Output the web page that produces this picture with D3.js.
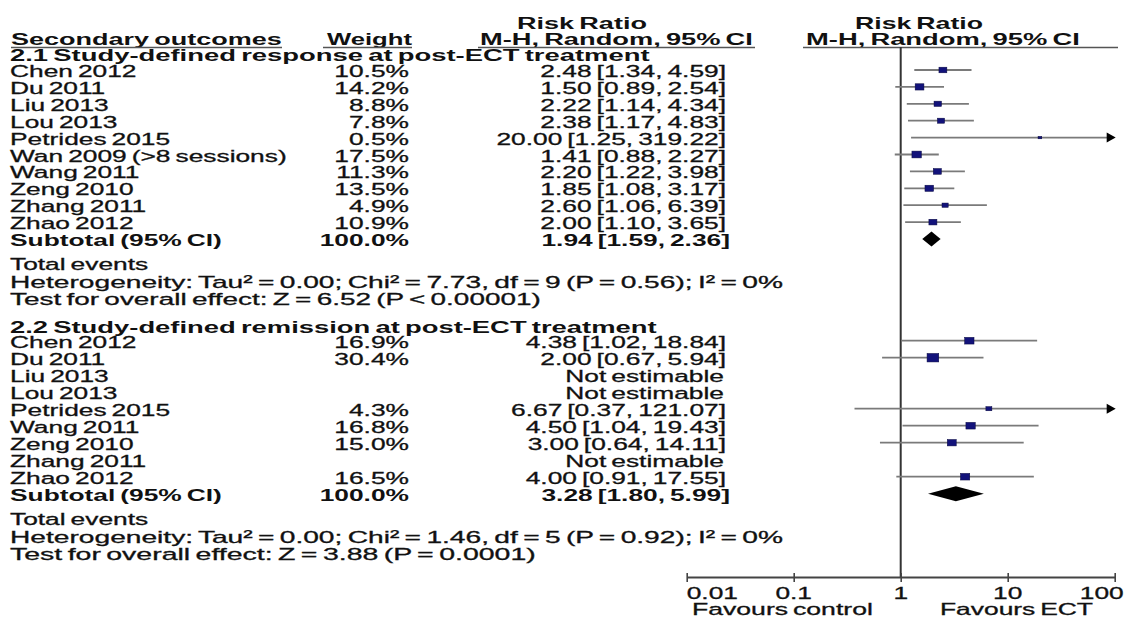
<!DOCTYPE html>
<html><head><meta charset="utf-8">
<script src="https://cdn.jsdelivr.net/npm/d3@7/dist/d3.min.js"></script>
<style>html,body{margin:0;padding:0;background:#fff;} svg{display:block;}</style>
</head><body>
<svg id="c" width="1126" height="618"></svg>
<script>
// ---------- data ----------
const group1Title = "2.1 Study-defined response at post-ECT treatment";
const studies1 = ["Chen 2012","Du 2011","Liu 2013","Lou 2013","Petrides 2015","Wan 2009 (>8 sessions)","Wang 2011","Zeng 2010","Zhang 2011","Zhao 2012"];
const weights1 = [10.5,14.2,8.8,7.8,0.5,17.5,11.3,13.5,4.9,10.9];
const rr1 = [2.48,1.50,2.22,2.38,20.00,1.41,2.20,1.85,2.60,2.00];
const lo1 = [1.34,0.89,1.14,1.17,1.25,0.88,1.22,1.08,1.06,1.10];
const hi1 = [4.59,2.54,4.34,4.83,319.22,2.27,3.98,3.17,6.39,3.65];
const subtotal1 = [1.94,1.59,2.36];
const hetero1 = "Heterogeneity: Tau\u00B2 = 0.00; Chi\u00B2 = 7.73, df = 9 (P = 0.56); I\u00B2 = 0%";
const overall1 = "Test for overall effect: Z = 6.52 (P < 0.00001)";

const group2Title = "2.2 Study-defined remission at post-ECT treatment";
const studies2 = ["Chen 2012","Du 2011","Liu 2013","Lou 2013","Petrides 2015","Wang 2011","Zeng 2010","Zhang 2011","Zhao 2012"];
const weights2 = [16.9,30.4,null,null,4.3,16.8,15.0,null,16.5];
const rr2 = [4.38,2.00,null,null,6.67,4.50,3.00,null,4.00];
const lo2 = [1.02,0.67,null,null,0.37,1.04,0.64,null,0.91];
const hi2 = [18.84,5.94,null,null,121.07,19.43,14.11,null,17.55];
const subtotal2 = [3.28,1.80,5.99];
const hetero2 = "Heterogeneity: Tau\u00B2 = 0.00; Chi\u00B2 = 1.46, df = 5 (P = 0.92); I\u00B2 = 0%";
const overall2 = "Test for overall effect: Z = 3.88 (P = 0.0001)";

const tickValues = [0.01,0.1,1,10,100];
const tickLabels = ["0.01","0.1","1","10","100"];
const favourLabels = ["Favours control","Favours ECT"];

// ---------- drawing ----------
const svg = d3.select("#c");
const FONT = "'Liberation Sans', Arial, sans-serif";
const FS = 17, SX = 1.55;
const INK = "#111";
const x = d3.scaleLog().domain([0.01,100]).range([686.7,1114.7]);
const wScale = d3.scaleSqrt().domain([0,30.4]).range([2.5,11.7]);
const hScale = d3.scaleSqrt().domain([0,30.4]).range([1.5,8.5]);

function txt(parent, str, px, py, opt={}) {
  const t = parent.append("text").text(str)
    .attr("font-family", FONT).attr("font-size", opt.fs || FS)
    .attr("font-weight", opt.bold ? "bold" : "normal")
    .attr("fill", INK)
    .attr("word-spacing", opt.ws !== undefined ? opt.ws : -1.5)
    .attr("text-anchor", opt.anchor || "start");
  if (!opt.bold) t.attr("stroke", INK).attr("stroke-width", 0.3);
  let sx = SX;
  if (opt.to !== undefined) {
    const w = t.node().getComputedTextLength();
    sx = Math.abs(opt.to - px) / w;
  }
  t.attr("transform", `translate(${px},${py}) scale(${sx},1)`);
  return t;
}
const fmt = (a,b,c) => `${a.toFixed(2)} [${b.toFixed(2)}, ${c.toFixed(2)}]`;

const gText = svg.append("g");
const gPlot = svg.append("g");

// headers
txt(gText, "Risk Ratio", 517, 29, {bold:true, to:647});
txt(gText, "Risk Ratio", 855, 29, {bold:true, to:983});
txt(gText, "Secondary outcomes", 11, 45, {bold:true, to:282});
txt(gText, "Weight", 327, 45, {bold:true, to:412});
txt(gText, "M-H, Random, 95% CI", 480, 45, {bold:true, to:753});
txt(gText, "M-H, Random, 95% CI", 806, 45, {bold:true, to:1080});
[[11,282],[323,412],[478,755],[803,1118]].forEach(s => {
  gPlot.append("line").attr("x1",s[0]).attr("x2",s[1]).attr("y1",47.5).attr("y2",47.5)
    .attr("stroke","#555").attr("stroke-width",1.6);
});

// zero-effect line
gPlot.append("line").attr("x1",x(1)).attr("x2",x(1)).attr("y1",47).attr("y2",577)
  .attr("stroke","#333").attr("stroke-width",2);

function drawStudy(name, w, r, l, h, y) {
  txt(gText, name, 10, y + 7);
  if (r == null) {
    txt(gText, "Not estimable", 724, y + 7, {anchor:"end"});
    return;
  }
  txt(gText, w.toFixed(1) + "%", 409, y + 7, {anchor:"end"});
  txt(gText, fmt(r,l,h), 726, y + 7, {anchor:"end"});
  const xl = x(Math.max(l, 0.01)), xh = x(Math.min(h, 100));
  gPlot.append("line").attr("x1", xl).attr("x2", h > 100 ? xh - 2 : xh)
    .attr("y1", y).attr("y2", y).attr("stroke", "#7a7a7a").attr("stroke-width", 1.8);
  if (h > 100) {
    const tip = x(100) + 1;
    gPlot.append("path").attr("d", `M${tip},${y} L${tip-9},${y-5} L${tip-9},${y+5} Z`).attr("fill", "#000");
  }
  const bw = wScale(w), bh = hScale(w);
  gPlot.append("rect").attr("x", x(r) - bw/2).attr("y", y - bh/2).attr("width", bw).attr("height", bh)
    .attr("fill", "#12127a").attr("stroke", "#0a0a40").attr("stroke-width", 0.5);
}
function diamond(s, y) {
  gPlot.append("path")
    .attr("d", `M${x(s[1])},${y} L${x(s[0])},${y-7.5} L${x(s[2])},${y} L${x(s[0])},${y+7.5} Z`)
    .attr("fill", "#000");
}

// group 1
txt(gText, group1Title, 10, 61, {bold:true, to:650});
studies1.forEach((s,i) => drawStudy(s, weights1[i], rr1[i], lo1[i], hi1[i], 70 + 16.9*i));
const ys1 = 70 + 16.9*studies1.length;
txt(gText, "Subtotal (95% CI)", 10, ys1 + 7, {bold:true});
txt(gText, "100.0%", 409, ys1 + 7, {bold:true, anchor:"end"});
txt(gText, fmt(...subtotal1), 730, ys1 + 7, {bold:true, anchor:"end"});
diamond(subtotal1, ys1);
txt(gText, "Total events", 10, 270);
txt(gText, hetero1, 10, 288, {to:783});
txt(gText, overall1, 10, 305, {to:541});

// group 2
txt(gText, group2Title, 10, 333, {bold:true, to:657});
studies2.forEach((s,i) => drawStudy(s, weights2[i], rr2[i], lo2[i], hi2[i], 340.7 + 17*i));
const ys2 = 340.7 + 17*studies2.length;
txt(gText, "Subtotal (95% CI)", 10, ys2 + 7, {bold:true});
txt(gText, "100.0%", 409, ys2 + 7, {bold:true, anchor:"end"});
txt(gText, fmt(...subtotal2), 730, ys2 + 7, {bold:true, anchor:"end"});
diamond(subtotal2, ys2);
txt(gText, "Total events", 10, 525);
txt(gText, hetero2, 10, 543, {to:783});
txt(gText, overall2, 10, 560, {to:536});

// axis
const axisG = gPlot.append("g").attr("transform", "translate(0,577)")
  .call(d3.axisBottom(x).tickValues(tickValues).tickFormat((d,i) => tickLabels[i]).tickSizeOuter(0));
axisG.select(".domain").attr("stroke", "#444").attr("stroke-width", 2);
axisG.selectAll(".tick line").attr("y1", -4).attr("y2", 5).attr("stroke", "#444").attr("stroke-width", 1.6);
axisG.selectAll(".tick text").remove();
tickValues.forEach((v,i) => {
  const last = i === tickValues.length - 1;
  const anchor = i === 0 ? "start" : (last ? "end" : "middle");
  const px = i === 0 ? x(v) : (last ? x(v) + 9 : x(v));
  txt(gText, tickLabels[i], px, 599, {anchor});
});
txt(gText, favourLabels[0], 692, 615, {to:873, fs:16.5});
txt(gText, favourLabels[1], 940, 615, {to:1093, fs:16.5});
</script>
</body></html>
